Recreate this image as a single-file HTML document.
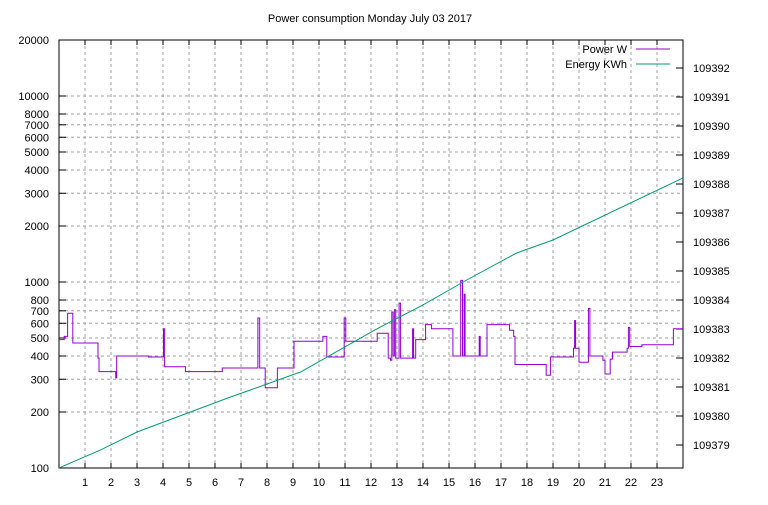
<!DOCTYPE html>
<html><head><meta charset="utf-8"><style>
body{margin:0;background:#fff}
svg text{font-family:"Liberation Sans",sans-serif;font-size:11px;fill:#000}
</style></head><body>
<svg id="c" width="768" height="500" xmlns="http://www.w3.org/2000/svg">
<rect width="768" height="500" fill="#fff"/>
<text x="370" y="22" text-anchor="middle">Power consumption Monday July 03 2017</text>
<g id="grid"></g><g id="axes"></g><g id="series"></g>
<g>
<text x="627" y="53" text-anchor="end">Power W</text>
<line x1="636" y1="49" x2="670" y2="49" stroke="#9400d3"/>
<text x="627" y="68" text-anchor="end">Energy KWh</text>
<line x1="636" y1="64" x2="670" y2="64" stroke="#009e73"/>
</g>
</svg>
<script>
const hourTicks=[1,2,3,4,5,6,7,8,9,10,11,12,13,14,15,16,17,18,19,20,21,22,23];
const leftTicks=[100,200,300,400,500,600,700,800,1000,2000,3000,4000,5000,6000,7000,8000,10000,20000];
const rightTicks=[109379,109380,109381,109382,109383,109384,109385,109386,109387,109388,109389,109390,109391,109392];
// step series: [hour, watts]
const powerHours=[0,0.2,0.33,0.53,1.5,1.54,2.18,2.22,3.44,4.02,4.06,4.86,6.28,7.65,7.72,7.77,7.93,8.4,9.04,10.15,10.3,10.97,11.03,12.24,12.66,12.75,12.8,12.85,12.9,12.95,13.08,13.14,13.2,13.6,13.64,13.72,14.1,14.33,15.15,15.45,15.52,15.58,15.62,15.66,16.16,16.2,16.46,17.33,17.49,17.54,18.74,18.9,19.79,19.83,19.87,20.0,20.36,20.42,20.92,21.0,21.2,21.29,21.85,21.9,21.95,22.42,23.63,24];
const powerWatts=[490,510,680,470,390,330,305,400,395,560,350,330,345,640,345,345,270,345,480,510,395,640,480,530,390,380,690,400,710,390,770,390,390,560,390,490,590,560,400,1020,400,860,400,400,510,400,590,550,510,360,315,395,440,620,440,370,720,400,380,320,385,420,440,570,450,460,560,560];
const energyHours=[0,1.6,3,6.4,9.3,12.15,14,15.68,17.6,19,24];
const energyKWh=[109378.21,109378.83,109379.45,109380.59,109381.52,109382.97,109383.83,109384.69,109385.62,109386.07,109388.21];

const L=59,R=683,T=40,B=468;
const xS=h=>L+(h/24)*(R-L);
const yL=w=>B-(Math.log10(w)-2)*(B-T)/Math.log10(200);
const yR=e=>445-(e-109379)*29;
const NS="http://www.w3.org/2000/svg";
function mk(tag,attrs,parent){const e=document.createElementNS(NS,tag);for(const k in attrs)e.setAttribute(k,attrs[k]);document.getElementById(parent).appendChild(e);return e;}

hourTicks.forEach(h=>{
 const x=xS(h);
 const g=mk('line',{x1:x,y1:T,x2:x,y2:B,stroke:'#a0a0a0','stroke-dasharray':'3,3'},'grid');
 
 
 const t=mk('line',{x1:x,y1:B,x2:x,y2:B-5,stroke:'#000'},'axes');
 
 
 const t2=mk('line',{x1:x,y1:T,x2:x,y2:T+5,stroke:'#000'},'axes');
 
 
 const lb=mk('text',{x:x,y:B+18,'text-anchor':'middle'},'axes');
 lb.textContent=h;
 
 
});
leftTicks.forEach(w=>{
 const y=yL(w);
 if(w>100&&w<20000){const g=mk('line',{x1:L,y1:y,x2:R,y2:y,stroke:'#a0a0a0','stroke-dasharray':'3,3'},'grid');
 
 }
 const t=mk('line',{x1:L,y1:y,x2:L+7,y2:y,stroke:'#000'},'axes');
 
 
 const lb=mk('text',{x:L-10,y:y+4,'text-anchor':'end'},'axes');
 lb.textContent=w;
 
 
});
rightTicks.forEach(e=>{
 const y=yR(e);
 const t=mk('line',{x1:R-7,y1:y,x2:R,y2:y,stroke:'#000'},'axes');
 
 
 const lb=mk('text',{x:R+10,y:y+4},'axes');
 lb.textContent=e;
 
 
});
const fr=mk('rect',{x:L,y:T,width:R-L,height:B-T,fill:'none',stroke:'#000'},'axes');



let d='';
for(let i=0;i<powerHours.length;i++){
 const x=xS(powerHours[i]).toFixed(1),y=yL(powerWatts[i]).toFixed(1);
 if(i===0)d+='M'+x+','+y;else d+='H'+x+'V'+y;
}
const pp=mk('path',{d:d,fill:'none',stroke:'#9400d3','stroke-width':1},'series');


const ep=mk('polyline',{points:energyHours.map((h,i)=>xS(h).toFixed(1)+','+yR(energyKWh[i]).toFixed(1)).join(' '),fill:'none',stroke:'#009e73','stroke-width':1},'series');


</script>
</body></html>
